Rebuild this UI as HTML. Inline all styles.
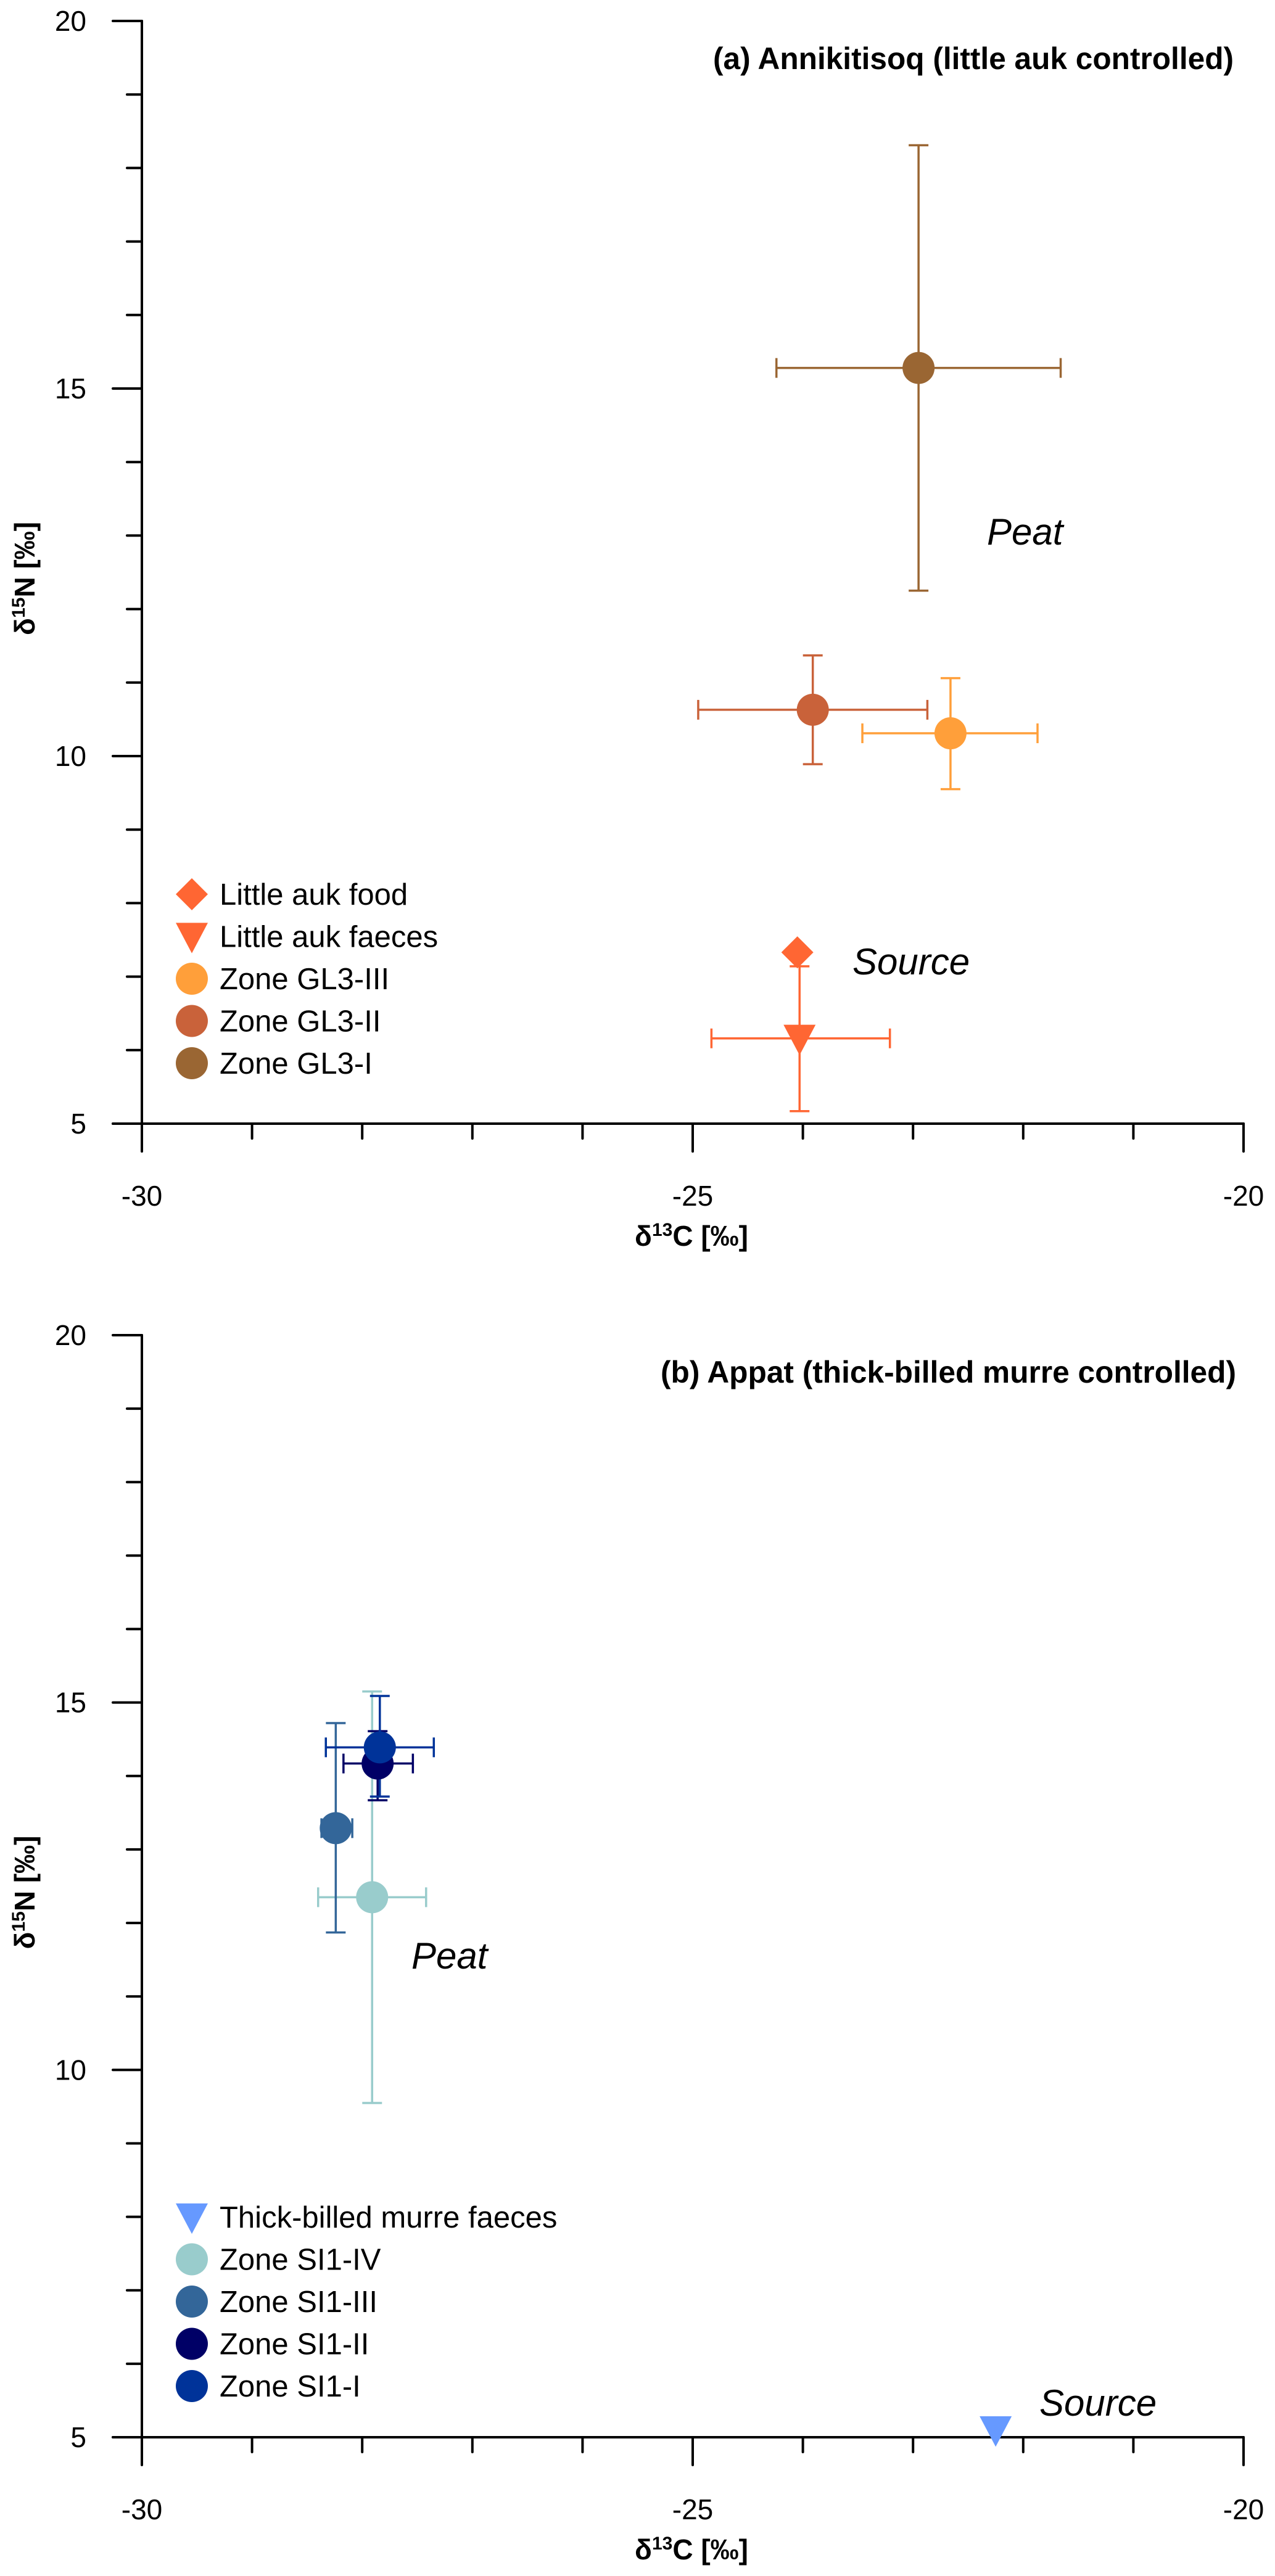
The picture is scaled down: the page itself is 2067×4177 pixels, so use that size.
<!DOCTYPE html>
<html><head><meta charset="utf-8"><style>
html,body{margin:0;padding:0;background:#fff;}
svg{display:block;font-family:"Liberation Sans",Arial,sans-serif;}
</style></head><body>
<svg id="fig" width="2067" height="4177" viewBox="0 0 2067 4177" xmlns="http://www.w3.org/2000/svg"></svg>
<script>
// ---- data panel (a)
const aNames = ["Little auk food","Little auk faeces","Zone GL3-III","Zone GL3-II","Zone GL3-I"];
const aX = [-24.05,-24.03,-22.66,-23.91,-22.95];
const aY = [7.33,6.16,10.31,10.63,15.28];
const aXlo = [null,-24.83,-23.46,-24.95,-24.24];
const aXhi = [null,-23.21,-21.87,-22.87,-21.66];
const aYlo = [null,5.17,9.55,9.89,12.25];
const aYhi = [null,7.14,11.06,11.37,18.31];
const aShape = ["diamond","tri","circle","circle","circle"];
const aColor = ["#FF6633","#FF6633","#FF9F3A","#C9623A","#9A6633"];
// ---- data panel (b)
const bNames = ["Thick-billed murre faeces","Zone SI1-IV","Zone SI1-III","Zone SI1-II","Zone SI1-I"];
const bX = [-22.25,-27.91,-28.24,-27.86,-27.84];
const bY = [5.1,12.35,13.29,14.17,14.39];
const bXlo = [null,-28.40,-28.37,-28.17,-28.33];
const bXhi = [null,-27.42,-28.09,-27.54,-27.35];
const bYlo = [null,9.55,11.87,13.67,13.72];
const bYhi = [null,15.15,14.72,14.61,15.09];
const bShape = ["tri","circle","circle","circle","circle"];
const bColor = ["#6699FF","#99CCCC","#336699","#000066","#003399"];
const xTicks = [-30,-25,-20];
const yTicks = [5,10,15,20];

const NS="http://www.w3.org/2000/svg";
const svg=document.getElementById('fig');
function mk(tag,attrs,parent,txt){const e=document.createElementNS(NS,tag);for(const k in attrs)e.setAttribute(k,attrs[k]);if(txt!=null)e.textContent=txt;(parent||svg).appendChild(e);return e;}

function marker(g,shape,cx,cy,col,r){
  let e;
  if(shape==="circle") e=mk('circle',{cx:cx,cy:cy,r:r,fill:col},g);
  else if(shape==="diamond") e=mk('polygon',{points:`${cx},${cy-r} ${cx+r},${cy} ${cx},${cy+r} ${cx-r},${cy}`,fill:col},g);
  else e=mk('polygon',{points:`${cx-r},${cy-r*0.85} ${cx+r},${cy-r*0.85} ${cx},${cy+r*1.05}`,fill:col},g);
  return e;
}

function panel(top,bottom,id,title,titleRight,titleBase,titleLen,names,X,Y,Xlo,Xhi,Ylo,Yhi,shapes,colors,legendY,labels){
  const x0=230,x1=2016;
  const sx=v=>x0+(v+30)/10*(x1-x0);
  const sy=v=>bottom-(v-5)/15*(bottom-top);
  const g=mk('g',{});
  
  
  // axes
  const ax=mk('g',{stroke:'#000','stroke-width':4,'stroke-linecap':'round'},g);
  
  
  mk('line',{x1:x0,y1:top,x2:x0,y2:bottom},ax);
  mk('line',{x1:x0-47,y1:bottom,x2:x1,y2:bottom},ax);
  for(let v=-30;v<=-20.001+0.001;v+=1){
    const major=Math.abs(v%5)<1e-6;
    mk('line',{x1:sx(v),y1:bottom,x2:sx(v),y2:bottom+(major?45:24)},ax);
  }
  for(let v=5;v<=20;v+=1){
    const major=v%5===0;
    mk('line',{x1:x0,y1:sy(v),x2:x0-(major?47:24),y2:sy(v)},ax);
  }
  xTicks.forEach(v=>{const t=mk('text',{x:sx(v),y:bottom+133,'font-size':46,'text-anchor':'middle'},g,String(v));
    });
  yTicks.forEach(v=>{const t=mk('text',{x:140,y:sy(v)+16,'font-size':46,'text-anchor':'end'},g,String(v));
    });
  // axis titles
  const xt=mk('text',{x:1121,y:bottom+198,'font-size':46,'font-weight':'bold','text-anchor':'middle'},g);
  
  xt.innerHTML='δ<tspan font-size="30" dy="-16">13</tspan><tspan dy="16">C [‰]</tspan>';
  const cy=(top+bottom)/2+10;
  const yt=mk('text',{x:0,y:0,'font-size':46,'font-weight':'bold','text-anchor':'middle',transform:`translate(56,${cy}) rotate(-90)`},g);
  
  yt.innerHTML='δ<tspan font-size="30" dy="-16">15</tspan><tspan dy="16">N [‰]</tspan>';
  // title
  const tt=mk('text',{x:titleRight,y:titleBase,'font-size':50,'font-weight':'bold','text-anchor':'end',textLength:titleLen,lengthAdjust:'spacingAndGlyphs'},g,title);
  
  // labels
  labels.forEach(l=>{const t=mk('text',{x:l[1],y:l[2],'font-size':60,'font-style':'italic'},g,l[0]);
    });
  // error bars
  names.forEach((n,i)=>{
    if(Xlo[i]==null) return;
    const eg=mk('g',{stroke:colors[i],'stroke-width':3.5,fill:'none'},g);
    
    
    const px=sx(X[i]),py=sy(Y[i]),c=16;
    mk('line',{x1:sx(Xlo[i]),y1:py,x2:sx(Xhi[i]),y2:py},eg);
    mk('line',{x1:sx(Xlo[i]),y1:py-c,x2:sx(Xlo[i]),y2:py+c},eg);
    mk('line',{x1:sx(Xhi[i]),y1:py-c,x2:sx(Xhi[i]),y2:py+c},eg);
    mk('line',{x1:px,y1:sy(Ylo[i]),x2:px,y2:sy(Yhi[i])},eg);
    mk('line',{x1:px-c,y1:sy(Ylo[i]),x2:px+c,y2:sy(Ylo[i])},eg);
    mk('line',{x1:px-c,y1:sy(Yhi[i]),x2:px+c,y2:sy(Yhi[i])},eg);
  });
  // points
  names.forEach((n,i)=>{
    const m=marker(g,shapes[i],sx(X[i]),sy(Y[i]),colors[i],26);
    
    
  });
  // legend
  const lg=mk('g',{},g);
  
  
  names.forEach((n,i)=>{
    const ly=legendY+i*68.5;
    const m=marker(lg,shapes[i],311,ly,colors[i],26);
    
    
    const t=mk('text',{x:356,y:ly+17,'font-size':49},lg,n);
    
    
  });
}

panel(34,1822,'panel-a','(a) Annikitisoq (little auk controlled)',2000,112,844,
  aNames,aX,aY,aXlo,aXhi,aYlo,aYhi,aShape,aColor,1450,[["Peat",1600,883],["Source",1382,1580]]);
panel(2165,3952,'panel-b','(b) Appat (thick-billed murre controlled)',2004,2242,933,
  bNames,bX,bY,bXlo,bXhi,bYlo,bYhi,bShape,bColor,3595,[["Peat",667,3192],["Source",1685,3917]]);
</script>
</body></html>
